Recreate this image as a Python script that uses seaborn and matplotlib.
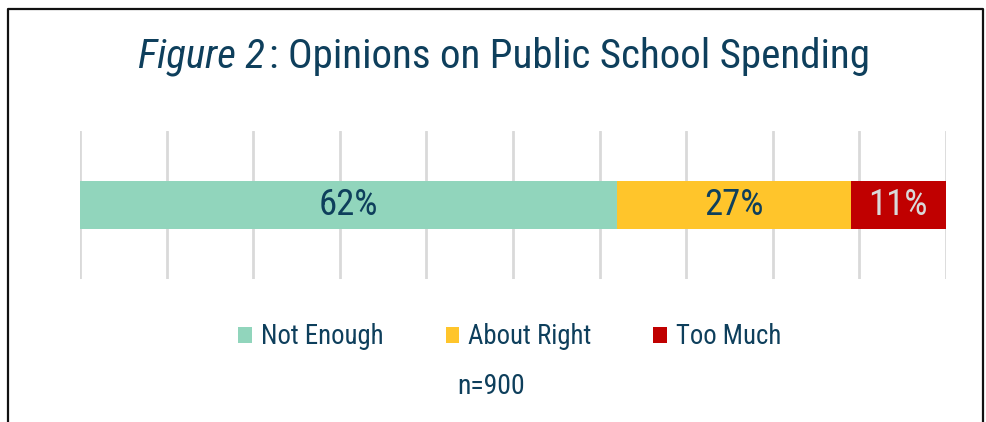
import matplotlib
matplotlib.use("Agg")
import matplotlib.pyplot as plt
from matplotlib.lines import Line2D
from matplotlib.patches import Patch
import seaborn as sns
import pandas as pd
import numpy as np

categories = ["Not Enough", "About Right", "Too Much"]
values = [62, 27, 11]
colors = ["#91D5BC", "#FFC52B", "#C00000"]
label_colors = ["#0E3F5C", "#0E3F5C", "#D9D9D9"]
title_italic = "Figure 2"
title_rest = ": Opinions on Public School Spending"
sample_note = "n=900"

sns.set_theme(style="white")
FONT = ["Liberation Sans Narrow", "Roboto Condensed", "DejaVu Sans"]
plt.rcParams["font.family"] = FONT
TEXT = "#0E3F5C"

fig = plt.figure(figsize=(9.87, 4.22), dpi=100)
fig.patch.set_facecolor("white")
ax = fig.add_axes([80 / 987, 1 - 279 / 422, (946 - 80) / 987, 148 / 422])

# stacked bar: draw cumulative totals from the longest down so each segment shows
cum = np.cumsum(values)
df = pd.DataFrame({"row": ["all"] * len(values), "cum": cum, "cat": categories})
for i in reversed(range(len(values))):
    sns.barplot(data=df.iloc[[i]], x="cum", y="row", color=colors[i],
                width=0.5, orient="h", ax=ax, saturation=1, linewidth=0)

starts = cum - np.array(values)
for s, v, c in zip(starts, values, label_colors):
    ax.text(s + v / 2, 0, f"{v}%", ha="center", va="center",
            fontsize=26.5, color=c)

ax.set_xlim(0, 100)
ax.set_ylim(0.787, -0.787)
ax.set_xticks(np.arange(0, 101, 10))
ax.xaxis.grid(True, color="#D9D9D9", linewidth=2)
ax.set_axisbelow(True)
ax.set_xticklabels([])
ax.set_yticks([])
ax.set_xlabel("")
ax.set_ylabel("")
ax.tick_params(length=0)
for sp in ax.spines.values():
    sp.set_visible(False)

# title: italic figure number followed by upright text, centred as one line
ty = 1 - 57 / 422
t1 = fig.text(0.5, ty, title_italic, fontsize=29.5, style="italic",
              color=TEXT, ha="left", va="center")
t2 = fig.text(0.5, ty, title_rest, fontsize=29.5, color=TEXT,
              ha="left", va="center")
fig.canvas.draw()
r = fig.canvas.get_renderer()
w1 = t1.get_window_extent(r).width
w2 = t2.get_window_extent(r).width
gap = 4
x0 = 504 - (w1 + gap + w2) / 2
t1.set_x(x0 / 987)
t2.set_x((x0 + w1 + gap) / 987)

handles = [Patch(facecolor=c, edgecolor="none", label=l)
           for c, l in zip(colors, categories)]
leg = fig.legend(handles=handles, loc="center", ncol=3,
                 bbox_to_anchor=(510 / 987, 1 - 337 / 422), frameon=False,
                 fontsize=19.3, handlelength=0.52, handleheight=0.52,
                 handletextpad=0.33, columnspacing=2.3)
for t in leg.get_texts():
    t.set_color(TEXT)

fig.text(491 / 987, 1 - 387 / 422, sample_note, fontsize=20, color=TEXT,
         ha="center", va="center")

# frame around the figure (open at the bottom)
fx = [8.5 / 987, 8.5 / 987, 983.5 / 987, 983.5 / 987]
fy = [0, 1 - 8.5 / 422, 1 - 8.5 / 422, 0]
fig.add_artist(Line2D(fx, fy, color="#111111", linewidth=1.6,
                      transform=fig.transFigure))

fig.savefig("out.png", dpi=100, facecolor="white")
